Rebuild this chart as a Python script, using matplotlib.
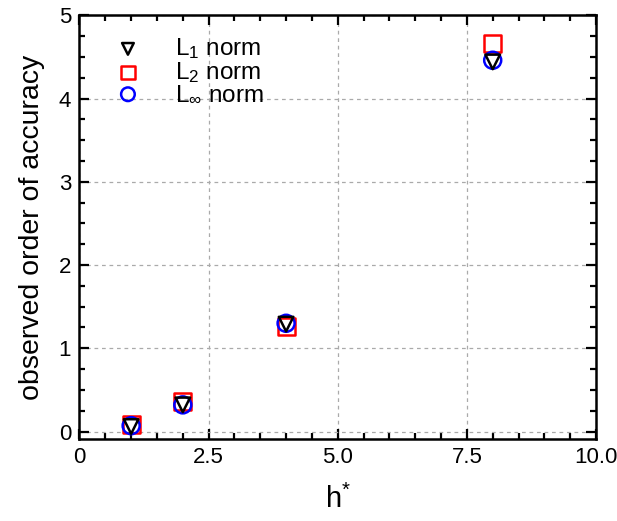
import matplotlib
matplotlib.use("Agg")
import matplotlib.pyplot as plt
from matplotlib.ticker import MultipleLocator

plt.rcParams['font.family'] = ['Liberation Sans', 'DejaVu Sans']
plt.rcParams['mathtext.fontset'] = 'custom'
plt.rcParams['mathtext.rm'] = 'Liberation Sans'
plt.rcParams['mathtext.it'] = 'Liberation Sans'

h_star = [1, 2, 4, 8]
l1_order = [0.06, 0.32, 1.29, 4.44]
l2_order = [0.08, 0.36, 1.26, 4.66]
linf_order = [0.07, 0.32, 1.30, 4.46]

fig = plt.figure(figsize=(6.17, 5.21), dpi=100)
ax = fig.add_axes([79.5 / 617, 1 - 439 / 521, (596 - 79.5) / 617, (439 - 15.3) / 521])

ax.scatter(h_star, l2_order, marker='s', s=150, facecolors='none',
           edgecolors='red', linewidths=1.8, label=r'L$_2$ norm', zorder=3)
ax.scatter(h_star, linf_order, marker='o', s=150, facecolors='none',
           edgecolors='blue', linewidths=1.8, label=r'L$_\infty$ norm', zorder=4)
ax.scatter(h_star, l1_order, marker='v', s=110, facecolors='none',
           edgecolors='black', linewidths=1.8, label=r'L$_1$ norm', zorder=5)

ax.set_xlim(0, 10)
ax.set_ylim(-0.09, 5)
ax.xaxis.set_major_locator(MultipleLocator(2.5))
ax.xaxis.set_minor_locator(MultipleLocator(0.5))
ax.xaxis.set_major_formatter(lambda v, p: '0' if v == 0 else f'{v:.1f}')
ax.yaxis.set_major_locator(MultipleLocator(1))
ax.yaxis.set_minor_locator(MultipleLocator(0.25))

ax.grid(True, which='major', linestyle=(0, (3, 3)), color='#aaaaaa', linewidth=0.9)
ax.set_axisbelow(True)

for s in ax.spines.values():
    s.set_linewidth(1.8)
ax.tick_params(which='both', direction='in', top=True, right=True,
               labelsize=16, width=1.6, pad=6)
ax.tick_params(which='major', length=7)
ax.tick_params(which='minor', length=4)

ax.set_xlabel(r'h$^{*}$', fontsize=21, labelpad=12)
ax.set_ylabel('observed order of accuracy', fontsize=20.5, labelpad=10)

handles, labels = ax.get_legend_handles_labels()
order = [2, 0, 1]
ax.legend([handles[i] for i in order], [labels[i] for i in order],
          loc='upper left', bbox_to_anchor=(0.042, 0.985), frameon=False,
          fontsize=17.5, handlelength=1.0, handletextpad=1.45,
          labelspacing=-0.05, borderaxespad=0.2, markerscale=0.8)

fig.savefig('out.png', dpi=100)
